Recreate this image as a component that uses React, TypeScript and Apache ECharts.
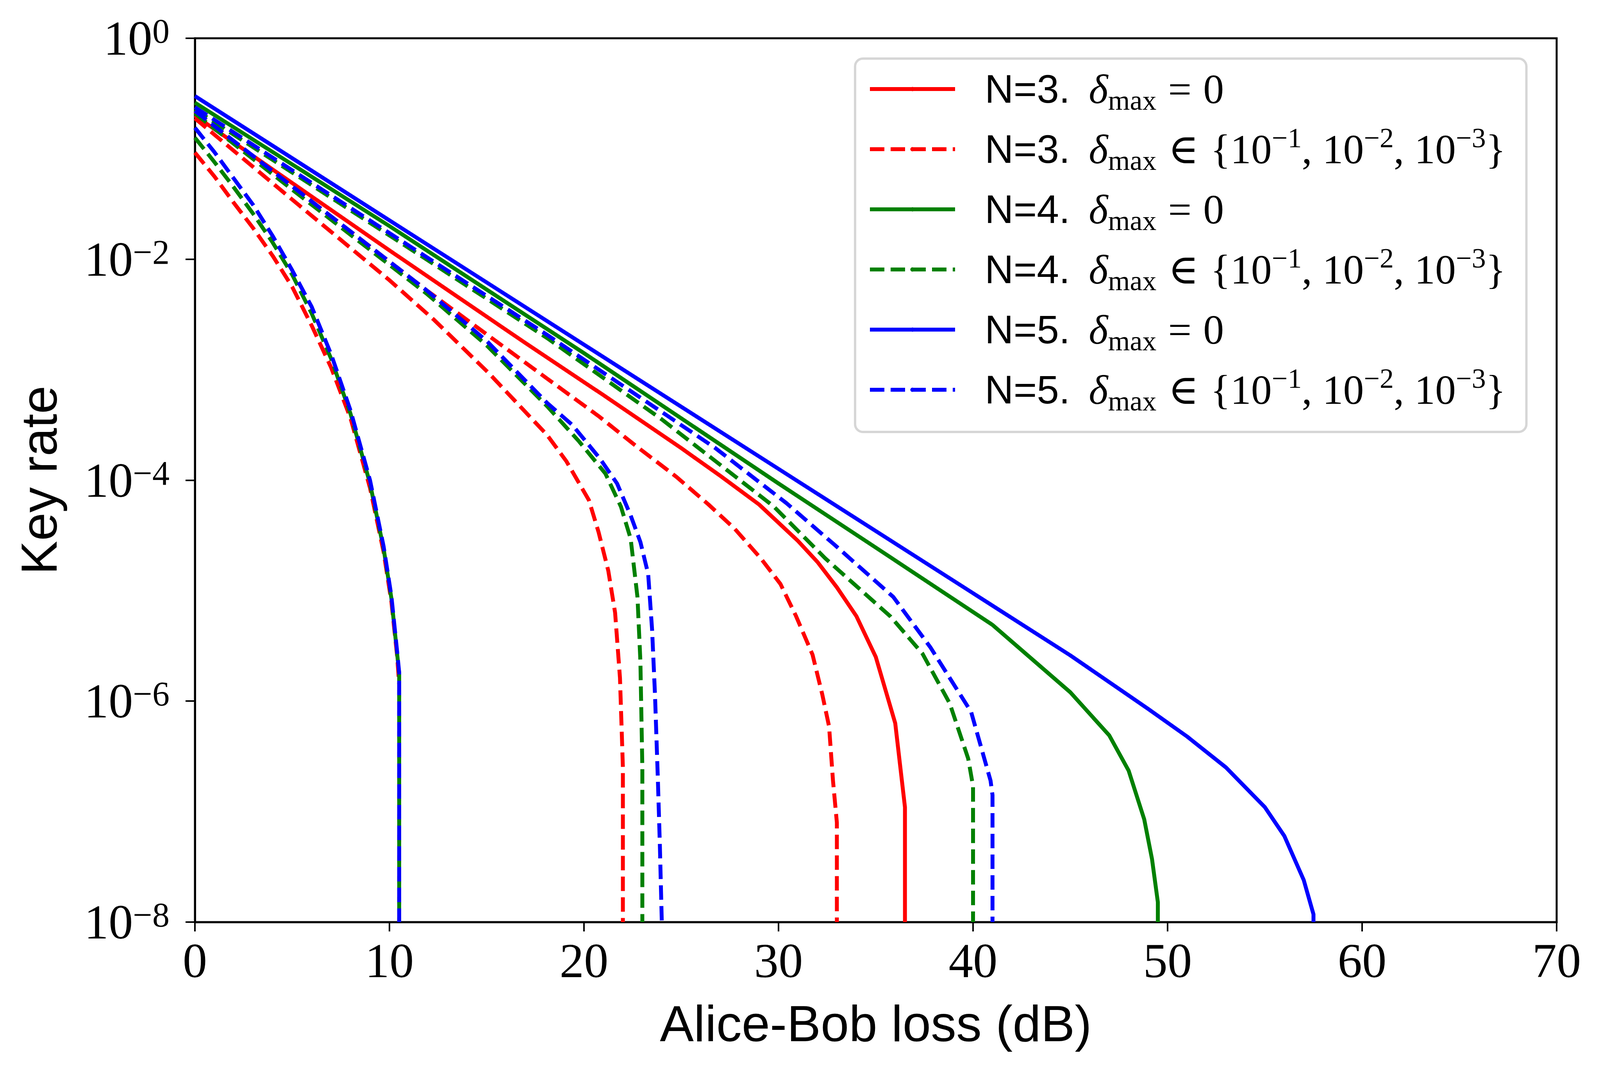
import React, { useEffect, useRef } from 'react';
import * as echarts from 'echarts';

// ---- data (loss in dB, log10 of key rate) ----
const steepLoss = [0, 1, 2, 3, 4, 5, 6, 7, 8, 9, 9.7, 10.1, 10.4, 10.5, 10.5];

const n3ZeroLoss = [0, 5, 10, 17, 21, 25, 27, 29, 31, 32, 33, 34, 35, 36, 36.5, 36.5];
const n3ZeroLog = [-0.7, -1.31, -1.92, -2.76, -3.23, -3.71, -3.96, -4.22, -4.55, -4.74, -4.97, -5.23, -5.6, -6.2, -6.96, -8];
const n3D1Log = [-1.035, -1.25, -1.49, -1.72, -1.97, -2.25, -2.6, -2.98, -3.44, -4.07, -4.65, -5.1, -5.6, -5.85, -8];
const n3D2Loss = [0, 5, 10, 12.3, 15.1, 18.1, 19.1, 20.25, 20.75, 21.25, 21.6, 21.85, 22, 22];
const n3D2Log = [-0.725, -1.46, -2.19, -2.55, -3.03, -3.59, -3.83, -4.18, -4.47, -4.82, -5.2, -5.79, -6.6, -8];
const n3D3Loss = [0, 5, 11.9, 18.1, 20.75, 22.6, 24.75, 26.4, 27.75, 29.1, 30.1, 30.9, 31.75, 32.25, 32.6, 32.8, 33, 33];
const n3D3Log = [-0.66, -1.34, -2.28, -3.08, -3.42, -3.68, -3.97, -4.22, -4.44, -4.71, -4.94, -5.23, -5.58, -5.94, -6.23, -6.72, -7.1, -8];

const n4ZeroLoss = [0, 10, 20, 30, 35, 41, 45, 47, 48, 48.8, 49.2, 49.5, 49.5];
const n4ZeroLog = [-0.583, -1.7, -2.85, -4.03, -4.61, -5.31, -5.92, -6.31, -6.63, -7.07, -7.43, -7.82, -8];
const n4D1Log = [-0.9, -1.12, -1.35, -1.59, -1.85, -2.14, -2.49, -2.9, -3.4, -4.03, -4.62, -5.07, -5.58, -5.75, -8];
const n4D2Loss = [0, 5, 11.9, 15, 18.1, 19.75, 21.1, 21.9, 22.4, 22.75, 22.9, 23, 23];
const n4D2Log = [-0.68, -1.37, -2.31, -2.78, -3.33, -3.65, -3.94, -4.24, -4.53, -5.06, -5.64, -6.6, -8];
const n4D3Loss = [0, 5, 11.8, 18.1, 24, 29.75, 32.4, 35.75, 37.4, 38.8, 39.75, 40, 40];
const n4D3Log = [-0.645, -1.215, -1.99, -2.713, -3.45, -4.237, -4.707, -5.233, -5.57, -6.02, -6.52, -6.77, -8];

const n5ZeroLoss = [0, 10, 20, 30, 40, 45, 49, 51, 53, 55, 56, 57, 57.5, 57.5];
const n5ZeroLog = [-0.523, -1.648, -2.773, -3.898, -5.023, -5.586, -6.07, -6.32, -6.6, -6.96, -7.22, -7.62, -7.93, -8];
const n5D1Log = [-0.81, -1.03, -1.27, -1.51, -1.79, -2.1, -2.43, -2.86, -3.37, -4.0, -4.6, -5.05, -5.56, -5.74, -8];
const n5D2Loss = [0, 5, 11.9, 15, 18.1, 19.4, 20.8, 21.7, 22.4, 22.9, 23.3, 23.5, 23.65, 23.8, 23.9, 24];
const n5D2Log = [-0.657, -1.34, -2.28, -2.74, -3.3, -3.5, -3.8, -4.03, -4.32, -4.56, -4.85, -5.35, -5.94, -6.72, -7.3, -8];
const n5D3Loss = [0, 5, 11.8, 18.1, 26.75, 30.4, 32.9, 35.9, 37.8, 39.9, 40.9, 41, 41];
const n5D3Log = [-0.624, -1.195, -1.968, -2.684, -3.709, -4.207, -4.588, -5.057, -5.511, -6.097, -6.72, -6.85, -8];

const xTicks = [0, 10, 20, 30, 40, 50, 60, 70];
const legendNames = ['N3zero', 'N3set', 'N4zero', 'N4set', 'N5zero', 'N5set'];
const legendPrefixes = ['N=3.', 'N=3.', 'N=4.', 'N=4.', 'N=5.', 'N=5.'];

const RED = '#ff0000';
const GREEN = '#008000';
const BLUE = '#0000ff';
const SERIF = '"Liberation Serif", "DejaVu Serif", serif';
const SANS = '"Liberation Sans", "DejaVu Sans", sans-serif';

function mk(name: string, color: string, dashed: boolean, xs: number[], logs: number[]) {
  return {
    type: 'line',
    name,
    data: xs.map((x, i) => [x, Math.pow(10, logs[i])]),
    symbol: 'none',
    showSymbol: false,
    silent: true,
    clip: false,
    lineStyle: { color, width: 10, type: dashed ? [37, 16] : 'solid', cap: 'butt', join: 'round' },
    itemStyle: { color },
    emphasis: { disabled: true },
  };
}

function legendText(name: string) {
  const i = legendNames.indexOf(name);
  const head = `{n|${legendPrefixes[i]}}{d|δ}{sub|max}`;
  if (i % 2 === 0) return `${head}{r|=}{m|0}`;
  return `${head}{r|∈}{{m|10}{sup|−1}{m|, 10}{sup|−2}{m|, 10}{sup|−3}}`;
}

function yLabel(v: number) {
  const e = Math.round(Math.log10(v));
  const s = e === 0 ? '0' : '−' + String(-e);
  return `{b|10}{s|${s}}`;
}

export default function App() {
  const ref = useRef<HTMLDivElement>(null);
  useEffect(() => {
    const chart = echarts.init(ref.current as HTMLDivElement, undefined, { renderer: 'svg' });
    const option = {
      animation: false,
      backgroundColor: '#ffffff',
      grid: {
        left: 499,
        top: 98,
        width: 3486,
        height: 2263,
        show: true,
        borderColor: '#000',
        borderWidth: 5,
        backgroundColor: 'transparent',
        containLabel: false,
      },
      xAxis: {
        type: 'value',
        min: 0,
        max: 70,
        interval: 10,
        name: 'Alice-Bob loss (dB)',
        nameLocation: 'middle',
        nameGap: 195,
        nameTextStyle: { fontFamily: SANS, fontSize: 130, color: '#000' },
        axisLine: { show: true, lineStyle: { color: '#000', width: 5 } },
        axisTick: { show: true, length: 24, lineStyle: { color: '#000', width: 4 } },
        axisLabel: {
          margin: 36,
          fontFamily: SERIF,
          fontSize: 125,
          color: '#000',
          formatter: (v: number) => (xTicks.includes(v) ? String(v) : ''),
        },
        splitLine: { show: false },
      },
      yAxis: {
        type: 'log',
        logBase: 10,
        min: 1e-8,
        max: 1,
        interval: 2,
        name: 'Key rate',
        nameLocation: 'middle',
        nameGap: 334,
        nameTextStyle: { fontFamily: SANS, fontSize: 130, color: '#000' },
        axisLine: { show: true, lineStyle: { color: '#000', width: 5 } },
        axisTick: { show: true, length: 24, lineStyle: { color: '#000', width: 4 } },
        minorTick: { show: false },
        axisLabel: {
          margin: 65,
          color: '#000',
          formatter: yLabel,
          rich: {
            b: { fontFamily: SERIF, fontSize: 125, lineHeight: 125, verticalAlign: 'middle', color: '#000' },
            s: { fontFamily: SERIF, fontSize: 88, lineHeight: 47, verticalAlign: 'top', color: '#000' },
          },
        },
        splitLine: { show: false },
      },
      legend: {
        show: true,
        data: legendNames,
        orient: 'vertical',
        left: 2189,
        top: 150,
        align: 'left',
        itemWidth: 218,
        itemHeight: 14,
        itemGap: 24,
        padding: [13, 53, 43, 33],
        backgroundColor: '#ffffff',
        borderColor: '#d6d6d6',
        borderWidth: 6,
        borderRadius: 20,
        selectedMode: false,
        lineStyle: { width: 10 },
        formatter: legendText,
        textStyle: {
          fontFamily: SERIF,
          fontSize: 106,
          lineHeight: 130,
          color: '#000',
          rich: {
            n: { fontFamily: SANS, fontSize: 102, lineHeight: 130, verticalAlign: 'middle', padding: [0, 48, 0, 71], color: '#000' },
            d: { fontFamily: SERIF, fontStyle: 'italic', fontSize: 106, lineHeight: 130, verticalAlign: 'middle', color: '#000' },
            sub: { fontFamily: SERIF, fontSize: 72, lineHeight: 80, verticalAlign: 'bottom', color: '#000' },
            r: { fontFamily: SERIF, fontSize: 106, lineHeight: 130, verticalAlign: 'middle', padding: [0, 30, 0, 30], color: '#000' },
            m: { fontFamily: SERIF, fontSize: 106, lineHeight: 130, verticalAlign: 'middle', color: '#000' },
            sup: { fontFamily: SERIF, fontSize: 72, lineHeight: 75, verticalAlign: 'top', color: '#000' },
          },
        },
      },
      series: [
        mk('N3zero', RED, false, n3ZeroLoss, n3ZeroLog),
        mk('N3set', RED, true, steepLoss, n3D1Log),
        mk('N3set', RED, true, n3D2Loss, n3D2Log),
        mk('N3set', RED, true, n3D3Loss, n3D3Log),
        mk('N4zero', GREEN, false, n4ZeroLoss, n4ZeroLog),
        mk('N4set', GREEN, true, steepLoss, n4D1Log),
        mk('N4set', GREEN, true, n4D2Loss, n4D2Log),
        mk('N4set', GREEN, true, n4D3Loss, n4D3Log),
        mk('N5zero', BLUE, false, n5ZeroLoss, n5ZeroLog),
        mk('N5set', BLUE, true, steepLoss, n5D1Log),
        mk('N5set', BLUE, true, n5D2Loss, n5D2Log),
        mk('N5set', BLUE, true, n5D3Loss, n5D3Log),
      ],
    };
    chart.setOption(option as any);
    return () => chart.dispose();
  }, []);
  return (
    <div
      ref={ref}
      style={{ position: 'absolute', left: 0, top: 0, width: 4100, height: 2750, background: '#fff' }}
    />
  );
}
